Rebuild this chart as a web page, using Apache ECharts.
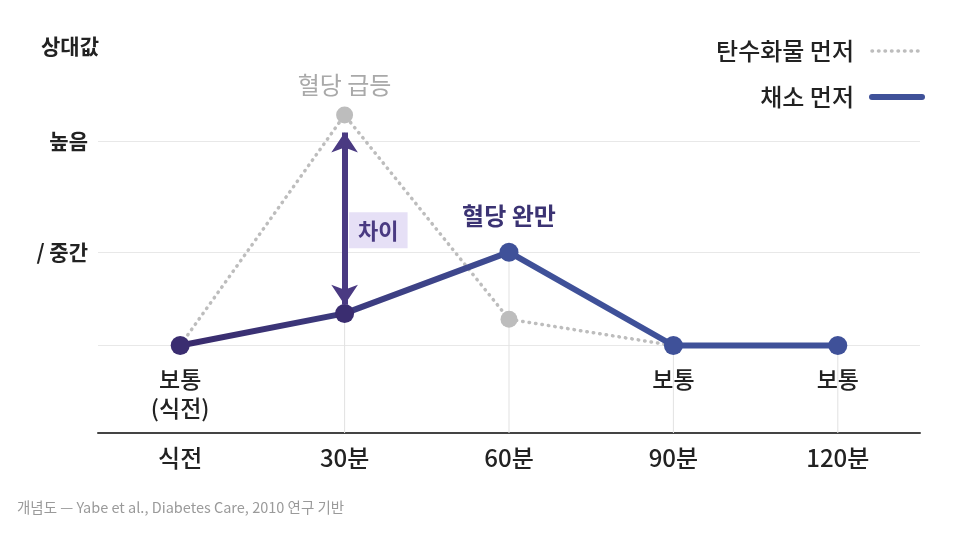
<!DOCTYPE html>
<html>
<head>
    <meta charset="utf-8">
    <title>혈당 곡선</title>
    <style>
        html, body { margin: 0; padding: 0; background: #fff; }
        #chart { width: 966px; height: 549px; }
    </style>
</head>
<body>
<div id="chart"></div>
<script src="https://cdn.jsdelivr.net/npm/echarts@6/dist/echarts.min.js"></script>
<script>
    // 시간 구간
    var categories = ['식전', '30분', '60분', '90분', '120분'];
    // 상대값 (낮음=0, 보통=30, 중간=62, 높음=100)
    var carbFirst = [30, 109, 39, 30, 30];
    var vegFirst = [30, 41, 62, 30, 30];
    // 점 옆 설명
    var carbNotes = ['', '혈당 급등', '', '', ''];
    var vegNotes = ['보통\n(식전)', '', '혈당 완만', '보통', '보통'];
    // 세로 보조선 (점에서 축까지)
    var dropLines = [null, 41, 62, 30, 30];
    // y축 기준선과 이름
    var levelValues = [100, 62, 30, 4.5];
    var levelNames = ['높음', '/ 중간', '', '낮음'];
    // 차이 화살표 범위
    var gapRange = [44, 103];

    var font = 'Noto Sans CJK KR';

    var vegData = vegFirst.map(function (v, i) {
        var note = vegNotes[i];
        var isTop = note === '혈당 완만';
        return {
            value: v,
            label: {
                show: note !== '',
                formatter: note,
                position: isTop ? 'top' : 'bottom',
                distance: isTop ? 12 : 10,
                fontSize: isTop ? 24 : 23,
                fontWeight: isTop ? 'bold' : 500,
                color: isTop ? '#3b3373' : '#222',
                lineHeight: 29,
                fontFamily: font
            }
        };
    });

    var carbData = carbFirst.map(function (v, i) {
        return {
            value: v,
            label: {
                show: carbNotes[i] !== '',
                formatter: carbNotes[i],
                position: 'top',
                distance: 10,
                fontSize: 24,
                color: '#a9a9a9',
                fontFamily: font
            }
        };
    });

    var option = {
        backgroundColor: '#fff',
        textStyle: {fontFamily: font},
        title: [
            {
                text: '상대값',
                left: 36, top: 31,
                textStyle: {fontSize: 21, fontWeight: 'bold', color: '#222', fontFamily: font}
            },
            {
                text: '개념도 — Yabe et al., Diabetes Care, 2010 연구 기반',
                left: 12, top: 495,
                textStyle: {fontSize: 14.5, fontWeight: 'normal', color: '#9a9a9a', fontFamily: font}
            }
        ],
        legend: {
            orient: 'vertical',
            right: 36, top: 34,
            align: 'right',
            itemWidth: 50, itemHeight: 16,
            itemGap: 22,
            itemStyle: {opacity: 0},
            textStyle: {fontSize: 24, fontWeight: 500, color: '#222', fontFamily: font, padding: [0, 13, 0, 0]},
            data: [
                {name: '탄수화물 먼저', lineStyle: {color: '#bdbdbd', width: 3.5, type: [0.5, 6], cap: 'round'}},
                {name: '채소 먼저', lineStyle: {color: '#3f5199', width: 6, cap: 'round'}}
            ]
        },
        grid: {left: 98, right: 46, top: 83, bottom: 116},
        xAxis: {
            type: 'category',
            data: categories,
            boundaryGap: true,
            axisLine: {lineStyle: {color: '#444', width: 2}},
            axisTick: {show: false},
            axisLabel: {fontSize: 24, fontWeight: 500, color: '#222', margin: 13, fontFamily: font}
        },
        yAxis: {
            type: 'value',
            min: 0, max: 120,
            axisLine: {show: false},
            axisTick: {show: false},
            axisLabel: {show: false},
            splitLine: {show: false}
        },
        series: [
            {
                name: 'drop',
                type: 'bar',
                data: dropLines,
                barWidth: 1,
                itemStyle: {color: '#e2e2e2'},
                silent: true,
                z: 1,
                markLine: {
                    silent: true,
                    z: 1,
                    symbol: 'none',
                    lineStyle: {color: '#e8e8e8', width: 1, type: 'solid'},
                    label: {
                        position: 'start',
                        distance: 10,
                        fontSize: 21,
                        fontWeight: 'bold',
                        color: '#222',
                        fontFamily: font,
                        formatter: function (p) { return levelNames[p.dataIndex]; }
                    },
                    data: levelValues.map(function (v, i) {
                        return {yAxis: v, lineStyle: {opacity: levelNames[i] === '낮음' ? 0 : 1}};
                    })
                }
            },
            {
                name: '탄수화물 먼저',
                type: 'line',
                data: carbData,
                symbol: 'circle',
                symbolSize: 17,
                itemStyle: {color: '#bdbdbd'},
                lineStyle: {color: '#bdbdbd', width: 3.5, type: [0.5, 6], cap: 'round'},
                z: 3
            },
            {
                name: '채소 먼저',
                type: 'line',
                data: vegData,
                symbol: 'circle',
                symbolSize: 19,
                itemStyle: {
                    color: function (p) { return p.dataIndex < 2 ? '#3a2d70' : '#3f5199'; }
                },
                lineStyle: {
                    width: 6,
                    color: new echarts.graphic.LinearGradient(0, 0, 1, 0, [
                        {offset: 0, color: '#392a6c'},
                        {offset: 0.35, color: '#3d4185'},
                        {offset: 0.55, color: '#3f5199'},
                        {offset: 1, color: '#3f5199'}
                    ])
                },
                z: 4,
                markLine: {
                    silent: true,
                    symbol: ['arrow', 'arrow'],
                    symbolSize: 20,
                    lineStyle: {color: '#4a3a82', width: 6, type: 'solid'},
                    label: {show: false},
                    data: [[
                        {coord: [categories[1], gapRange[0]]},
                        {coord: [categories[1], gapRange[1]]}
                    ]]
                },
                markPoint: {
                    silent: true,
                    symbol: 'rect',
                    symbolSize: 1,
                    itemStyle: {color: 'transparent'},
                    label: {
                        show: true,
                        position: 'right',
                        distance: 4,
                        formatter: '차이',
                        fontSize: 22,
                        fontWeight: 'bold',
                        color: '#4a3a82',
                        backgroundColor: '#e6e0f6',
                        padding: [7, 9, 7, 9],
                        fontFamily: font
                    },
                    data: [{coord: [categories[1], 69.5]}]
                }
            }
        ]
    };

    var myChart = echarts.init(document.getElementById('chart'));
    myChart.setOption(option);
</script>
</body>
</html>
